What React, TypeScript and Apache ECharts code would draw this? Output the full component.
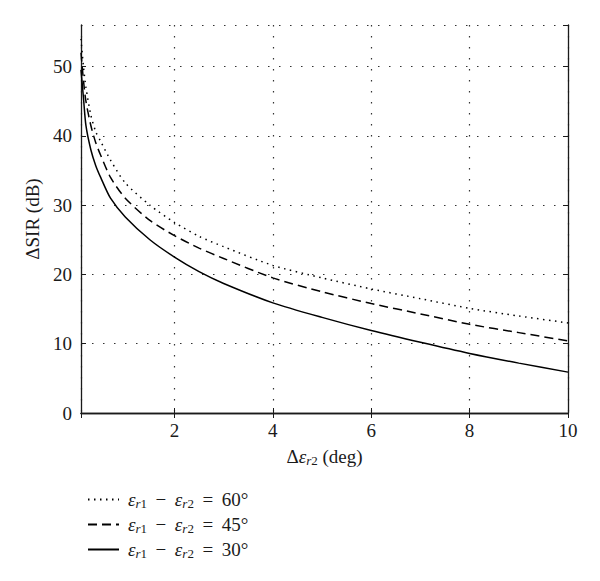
import React, { useEffect, useRef } from 'react';
import * as echarts from 'echarts';

const xValues = [0.1, 0.15, 0.2, 0.3, 0.4, 0.5, 0.7, 1, 1.5, 2, 2.5, 3, 4, 5, 6, 7, 8, 9, 10];
const sir60 = [54, 50, 47, 43, 40.6, 39.2, 36.5, 33.2, 30.0, 27.5, 25.5, 24, 21.3, 19.5, 17.9, 16.5, 15.1, 14, 13.0];
const sir45 = [52, 48, 45, 41.5, 39, 37.2, 34, 31, 27.8, 25.6, 23.8, 22.3, 19.5, 17.5, 15.8, 14.3, 12.8, 11.6, 10.4];
const sir30 = [49.5, 45.5, 41.5, 38, 35.7, 34, 31, 28.3, 25, 22.5, 20.4, 18.7, 15.9, 13.8, 11.9, 10.2, 8.6, 7.2, 5.9];
const seriesNames = ['εr1 − εr2 = 60°', 'εr1 − εr2 = 45°', 'εr1 − εr2 = 30°'];
const angleLabels = ['60°', '45°', '30°'];
const xTickLabels = [2, 4, 6, 8, 10];

const FONT = '"Liberation Serif", "DejaVu Serif", serif';
const INK = '#1a1a1a';
const FS = 19;

const subStyle = {
  fontFamily: FONT,
  fontSize: 13,
  color: INK,
  verticalAlign: 'bottom' as const,
  padding: [8, 0, 0, 0],
};
const richStyles = {
  i: { fontFamily: FONT, fontSize: FS, fontStyle: 'italic' as const, color: INK },
  n: { fontFamily: FONT, fontSize: FS, color: INK },
  sr: { ...subStyle, fontStyle: 'italic' as const },
  sd: { ...subStyle },
};

export default function App() {
  const ref = useRef<HTMLDivElement>(null);
  useEffect(() => {
    if (!ref.current) return;
    const chart = echarts.init(ref.current, null, { renderer: 'svg' });
    const mk = (arr: number[]) => xValues.map((x, i) => [x, arr[i]]);
    const lineTypes: any[] = [[1.5, 4.5], [9, 5], 'solid'];
    const datasets = [sir60, sir45, sir30];
    const option: any = {
      animation: false,
      backgroundColor: '#ffffff',
      grid: { left: 81, top: 25, width: 487, height: 388 },
      legend: {
        orient: 'vertical',
        left: 82,
        top: 485,
        itemWidth: 31,
        itemHeight: 12,
        itemGap: 5,
        itemStyle: { opacity: 0 },
        data: seriesNames,
        textStyle: { fontFamily: FONT, fontSize: FS, color: INK, padding: [0, 0, 0, 4], rich: richStyles },
        formatter: (name: string) => {
          const idx = seriesNames.indexOf(name);
          return `{i|ε}{sr|r}{sd|1}{n| \u2009−\u2009 }{i|ε}{sr|r}{sd|2}{n| \u2009=\u2009 ${angleLabels[idx]}}`;
        },
      },
      xAxis: [
        {
          type: 'value',
          min: 0.1,
          max: 10,
          splitNumber: 5,
          position: 'bottom',
          axisLine: { show: true, lineStyle: { color: INK, width: 1.3 } },
          axisTick: { show: true, inside: true, length: 5, lineStyle: { color: INK } },
          axisLabel: {
            fontFamily: FONT,
            fontSize: FS,
            color: INK,
            margin: 8,
            showMinLabel: false,
            formatter: (v: number) => (xTickLabels.includes(Math.round(v * 1000) / 1000) ? String(v) : ''),
          },
          splitLine: { show: true, lineStyle: { color: '#333', width: 1.2, type: [1.5, 9.5] } },
          name: '{d|Δ}{i|ε}{sr|r}{sd|2}{n| (deg)}',
          nameLocation: 'middle',
          nameGap: 33,
          nameTextStyle: { rich: { ...richStyles, d: { fontFamily: FONT, fontSize: FS, color: INK } } },
        },
        {
          type: 'value',
          min: 0.1,
          max: 10,
          splitNumber: 5,
          position: 'top',
          axisLine: { show: true, lineStyle: { color: INK, width: 1.3 } },
          axisTick: { show: true, inside: true, length: 5, lineStyle: { color: INK } },
          axisLabel: { show: false },
          splitLine: { show: false },
        },
      ],
      yAxis: [
        {
          type: 'value',
          min: 0,
          max: 56,
          interval: 10,
          position: 'left',
          axisLine: { show: true, lineStyle: { color: INK, width: 1.3 } },
          axisTick: { show: true, inside: true, length: 5, lineStyle: { color: INK } },
          axisLabel: {
            fontFamily: FONT,
            fontSize: FS,
            color: INK,
            margin: 9,
            showMaxLabel: false,
            formatter: (v: number) => (v % 10 === 0 ? String(v) : ''),
          },
          splitLine: { show: true, lineStyle: { color: '#333', width: 1.2, type: [1.5, 9.5] } },
          name: 'ΔSIR (dB)',
          nameLocation: 'middle',
          nameGap: 37,
          nameRotate: 90,
          nameTextStyle: { fontFamily: FONT, fontSize: FS, color: INK },
        },
        {
          type: 'value',
          min: 0,
          max: 56,
          interval: 10,
          position: 'right',
          axisLine: { show: true, lineStyle: { color: INK, width: 1.3 } },
          axisTick: { show: true, inside: true, length: 5, lineStyle: { color: INK } },
          axisLabel: { show: false },
          splitLine: { show: false },
        },
      ],
      series: datasets.map((arr, i) => ({
        name: seriesNames[i],
        type: 'line',
        xAxisIndex: 0,
        yAxisIndex: 0,
        data: mk(arr),
        showSymbol: false,
        symbol: 'none',
        smooth: 0.25,
        lineStyle: { color: '#000', width: 1.5, type: lineTypes[i] },
        itemStyle: { color: '#000' },
      })),
    };
    chart.setOption(option);
    return () => chart.dispose();
  }, []);
  return (
    <div
      ref={ref}
      style={{ position: 'fixed', left: 0, top: 0, width: 600, height: 581, background: '#fff' }}
    />
  );
}
